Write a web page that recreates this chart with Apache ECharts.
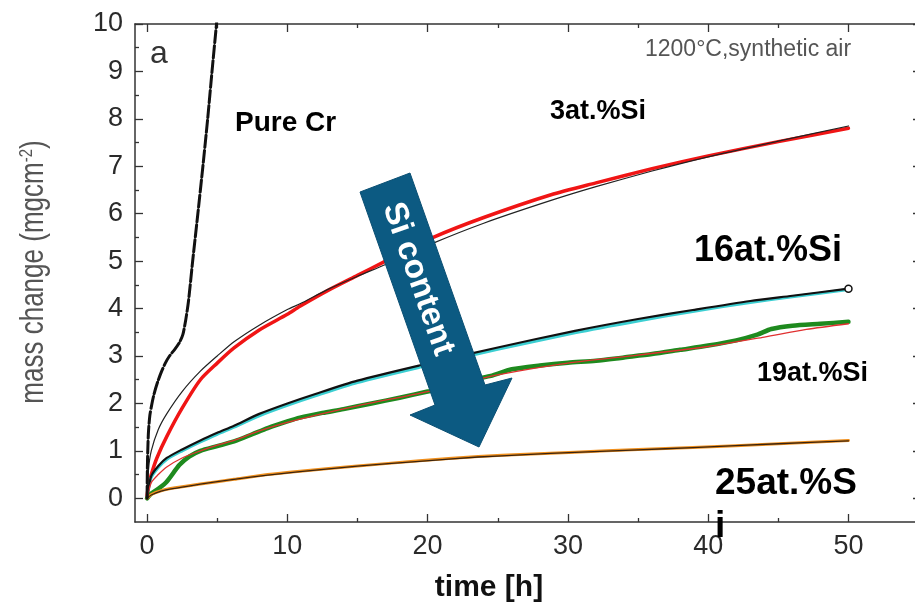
<!DOCTYPE html>
<html><head><meta charset="utf-8">
<script src="https://cdn.jsdelivr.net/npm/echarts@6/dist/echarts.min.js"></script>
<style>html,body{margin:0;padding:0;background:#fff}#c{width:915px;height:610px}</style>
</head><body><div id="c"></div>
<script>
const FONT = '"Liberation Sans", Arial, sans-serif';

// axis ticks
const xTicks = [0, 10, 20, 30, 40, 50];
const xMinorTicks = [5, 15, 25, 35, 45];
const yTicks = [0, 1, 2, 3, 4, 5, 6, 7, 8, 9, 10];
const yMinorTicks = [0.5, 1.5, 2.5, 3.5, 4.5, 5.5, 6.5, 7.5, 8.5, 9.5];

// Pure Cr (measured)
const pureCr = [[0,0.0],[0.02,0.6],[0.05,1.0],[0.1,1.4],[0.2,1.75],[0.35,2.0],[0.5,2.2],[0.75,2.45],[1.0,2.65],[1.3,2.85],[1.6,3.0],[2.0,3.15],[2.3,3.28],[2.55,3.45],[2.75,3.75],[2.95,4.15],[3.25,5.0],[3.62,6.0],[3.98,7.0],[4.32,8.0],[4.63,9.0],[4.95,10.0],[5.1,10.5]];

// 3 at.% Si: measured (red) and fit (black)
const si3Data = [[0,0.05],[0.1,0.25],[0.3,0.5],[0.7,0.85],[1.4,1.3],[2.5,1.9],[3.8,2.5],[5,2.85],[6.2,3.17],[8,3.55],[10,3.88],[10.9,4.05],[13,4.4],[15,4.7],[17,5.0],[20.4,5.5],[24,5.92],[28.8,6.4],[32,6.65],[36,6.95],[40,7.22],[45,7.52],[50,7.8]];
const si3Fit = [[0,0],[0.1,0.6],[0.3,1.0],[0.8,1.45],[1.4,1.78],[2.5,2.25],[3.8,2.68],[5,3.0],[6.2,3.3],[8,3.65],[10,3.98],[10.9,4.1],[13,4.42],[15,4.68],[17,4.93],[20.4,5.38],[24,5.8],[28.8,6.28],[32,6.57],[36,6.9],[40,7.2],[45,7.53],[50,7.85]];

// 16 at.% Si: measured (black) and fit (cyan)
const si16Data = [[0,0],[0.1,0.2],[0.3,0.47],[0.8,0.68],[1.4,0.85],[2.5,1.03],[3.8,1.22],[5,1.38],[6.2,1.53],[8,1.78],[10,2.0],[12,2.2],[15,2.48],[19.4,2.8],[25,3.18],[30.5,3.53],[35,3.78],[38.9,3.97],[43,4.16],[46,4.27],[50,4.42]];
const si16Fit = [[0,0],[0.1,0.18],[0.3,0.44],[0.8,0.65],[1.4,0.82],[2.5,1.0],[3.8,1.19],[5,1.35],[6.2,1.5],[8,1.74],[10,1.96],[12,2.16],[15,2.44],[19.4,2.76],[25,3.14],[30.5,3.49],[35,3.74],[38.9,3.94],[43,4.13],[46,4.25],[50,4.4]];

// 19 at.% Si: measured (green) and fit (red)
const si19Data = [[0,0],[0.3,0.1],[0.8,0.2],[1.4,0.35],[2.3,0.7],[3,0.88],[3.8,1.0],[5,1.1],[6.2,1.2],[7.5,1.35],[8.6,1.48],[10,1.62],[10.9,1.7],[12.5,1.8],[14,1.88],[16,2.0],[18,2.12],[20,2.25],[22,2.38],[23.5,2.52],[24.5,2.58],[26,2.72],[28,2.8],[30,2.86],[32,2.9],[34,2.97],[36,3.04],[38,3.13],[40,3.22],[42,3.33],[43.5,3.45],[44.5,3.57],[46,3.64],[48,3.68],[50,3.72]];
const si19Fit = [[0,0],[0.3,0.33],[0.8,0.5],[1.4,0.66],[2.5,0.85],[3.8,1.0],[5,1.12],[6.2,1.22],[8,1.42],[10,1.6],[12,1.75],[15,1.95],[20,2.25],[25,2.6],[30,2.85],[35,3.02],[40,3.2],[44,3.4],[47,3.56],[50,3.68]];

// 25 at.% Si: measured (orange) and fit (black)
const si25Data = [[0,0],[0.3,0.08],[1,0.16],[2,0.22],[3.8,0.3],[6.2,0.4],[8.6,0.5],[10.9,0.57],[15,0.68],[19.4,0.79],[23.6,0.88],[27,0.93],[30.5,0.97],[35,1.03],[38.9,1.07],[45,1.15],[50,1.22]];
const si25Fit = [[0,0],[0.3,0.07],[1,0.15],[2,0.21],[3.8,0.3],[6.2,0.4],[8.6,0.49],[10.9,0.56],[15,0.68],[19.4,0.78],[23.6,0.87],[27,0.92],[30.5,0.97],[35,1.02],[38.9,1.07],[45,1.15],[50,1.21]];

const X_MIN = -0.86, X_MAX = 55.1, Y_MIN = -0.5, Y_MAX = 10;
const AX = '#333';

function xAxisDef(pos, ticks, len, line, labels) {
  return {
    type: 'value', position: pos, min: X_MIN, max: X_MAX,
    axisLine: { show: line, onZero: false, lineStyle: { color: AX, width: 1.5 } },
    axisTick: { show: true, inside: true, length: len, customValues: ticks, lineStyle: { color: AX, width: 1.3 } },
    axisLabel: labels ? { show: true, customValues: ticks, fontSize: 27, color: '#2a2a2a', fontFamily: FONT, margin: 11 } : { show: false },
    splitLine: { show: false }, minorTick: { show: false }
  };
}
function yAxisDef(pos, ticks, len, line, labels) {
  return {
    type: 'value', position: pos, min: Y_MIN, max: Y_MAX,
    axisLine: { show: line, onZero: false, lineStyle: { color: AX, width: 1.5 } },
    axisTick: { show: true, inside: true, length: len, customValues: ticks, lineStyle: { color: AX, width: 1.3 } },
    axisLabel: labels ? { show: true, customValues: ticks, fontSize: 27, color: '#2a2a2a', fontFamily: FONT, margin: 12 } : { show: false },
    splitLine: { show: false }, minorTick: { show: false }
  };
}

function line(name, data, color, width, z, dash) {
  return {
    name, type: 'line', data, xAxisIndex: 0, yAxisIndex: 0,
    showSymbol: false, smooth: 0.25, z, clip: true,
    lineStyle: { color, width, type: dash || 'solid', cap: 'round', join: 'round' }
  };
}

const si16Series = line('16at.%Si', si16Data, '#111', 2.2, 4);
si16Series.markPoint = {
  symbol: 'circle', symbolSize: 7, silent: true, label: { show: false },
  itemStyle: { color: '#fff', borderColor: '#111', borderWidth: 1.5 },
  data: [{ coord: si16Data[si16Data.length - 1] }]
};

const chart = echarts.init(document.getElementById('c'), null, { renderer: 'canvas' });
chart.setOption({
  animation: false,
  backgroundColor: '#fff',
  grid: { left: 135, top: 24, width: 785, height: 498, containLabel: false, outerBoundsMode: 'none' },
  xAxis: [
    xAxisDef('bottom', xTicks, 8, true, true),
    xAxisDef('bottom', xMinorTicks, 4, false, false),
    xAxisDef('top', xTicks, 8, true, false),
    xAxisDef('top', xMinorTicks, 4, false, false)
  ],
  yAxis: [
    yAxisDef('left', yTicks, 8, true, true),
    yAxisDef('left', yMinorTicks, 4, false, false),
    yAxisDef('right', yTicks, 7, false, false),
    yAxisDef('right', yMinorTicks, 4, false, false)
  ],
  series: [
    line('Pure Cr', pureCr, '#111', 3, 5, [12, 3]),
    line('3at.%Si', si3Data, '#f01515', 3.5, 3),
    line('3at.%Si fit', si3Fit, '#222', 1.2, 4),
    line('16at.%Si fit', si16Fit, '#3ccfd2', 3, 3),
    si16Series,
    line('19at.%Si', si19Data, '#1e8a1e', 4.5, 3),
    line('19at.%Si fit', si19Fit, '#e03030', 1.3, 4),
    line('25at.%Si', si25Data, '#f0901e', 3, 3),
    line('25at.%Si fit', si25Fit, '#3a2410', 1.3, 4)
  ],
  graphic: [
    { type: 'text', z: 100, x: 150, y: 54, style: { text: 'a', font: '32px ' + FONT, fill: '#333', align: 'left', verticalAlign: 'middle', textAlign: 'left', textVerticalAlign: 'middle' } },
    { type: 'text', z: 100, x: 645, y: 50, style: { text: '1200°C,synthetic air', font: '23px ' + FONT, fill: '#555', align: 'left', verticalAlign: 'middle', textAlign: 'left', textVerticalAlign: 'middle' } },
    { type: 'text', z: 100, x: 235, y: 123, style: { text: 'Pure Cr', font: 'bold 28px ' + FONT, fill: '#000', align: 'left', verticalAlign: 'middle', textAlign: 'left', textVerticalAlign: 'middle' } },
    { type: 'text', z: 100, x: 550, y: 112, style: { text: '3at.%Si', font: 'bold 27px ' + FONT, fill: '#000', align: 'left', verticalAlign: 'middle', textAlign: 'left', textVerticalAlign: 'middle' } },
    { type: 'text', z: 100, x: 694, y: 251, style: { text: '16at.%Si', font: 'bold 36px ' + FONT, fill: '#000', align: 'left', verticalAlign: 'middle', textAlign: 'left', textVerticalAlign: 'middle' } },
    { type: 'text', z: 100, x: 757, y: 374, style: { text: '19at.%Si', font: 'bold 27px ' + FONT, fill: '#000', align: 'left', verticalAlign: 'middle', textAlign: 'left', textVerticalAlign: 'middle' } },
    { type: 'text', z: 100, x: 715, y: 484, style: { text: '25at.%S', font: 'bold 37px ' + FONT, fill: '#000', align: 'left', verticalAlign: 'middle', textAlign: 'left', textVerticalAlign: 'middle' } },
    { type: 'text', z: 100, x: 715, y: 527, style: { text: 'i', font: 'bold 37px ' + FONT, fill: '#000', align: 'left', verticalAlign: 'middle', textAlign: 'left', textVerticalAlign: 'middle' } },
    { type: 'polygon', z: 90, shape: { points: [[360,192],[410,173],[485,385],[512,378],[479,447],[410,415],[435,405]] }, style: { fill: '#0c5a82', stroke: '#0a4f73', lineWidth: 1 } },
    { type: 'text', z: 100, x: 418, y: 279, rotation: -1.232, style: { text: 'Si content', font: 'bold 33px ' + FONT, fill: '#fff', align: 'center', verticalAlign: 'middle', textAlign: 'center', textVerticalAlign: 'middle' } },
    { type: 'text', z: 100, x: 489, y: 588, style: { text: 'time [h]', font: 'bold 30px ' + FONT, fill: '#111', align: 'center', verticalAlign: 'middle', textAlign: 'center', textVerticalAlign: 'middle' } },
    { type: 'text', z: 100, x: 34, y: 272, rotation: Math.PI / 2, scaleY: 1.25, style: {
        text: '{n|mass change (mgcm}{s|-2}{n|)}', align: 'center', verticalAlign: 'middle', textAlign: 'center', textVerticalAlign: 'middle',
        rich: { n: { font: '26px ' + FONT, fill: '#555', color: '#555' }, s: { font: '15px ' + FONT, fill: '#555', color: '#555', verticalAlign: 'top', padding: [0, 0, 11, 0] } } } }
  ]
});
</script></body></html>
